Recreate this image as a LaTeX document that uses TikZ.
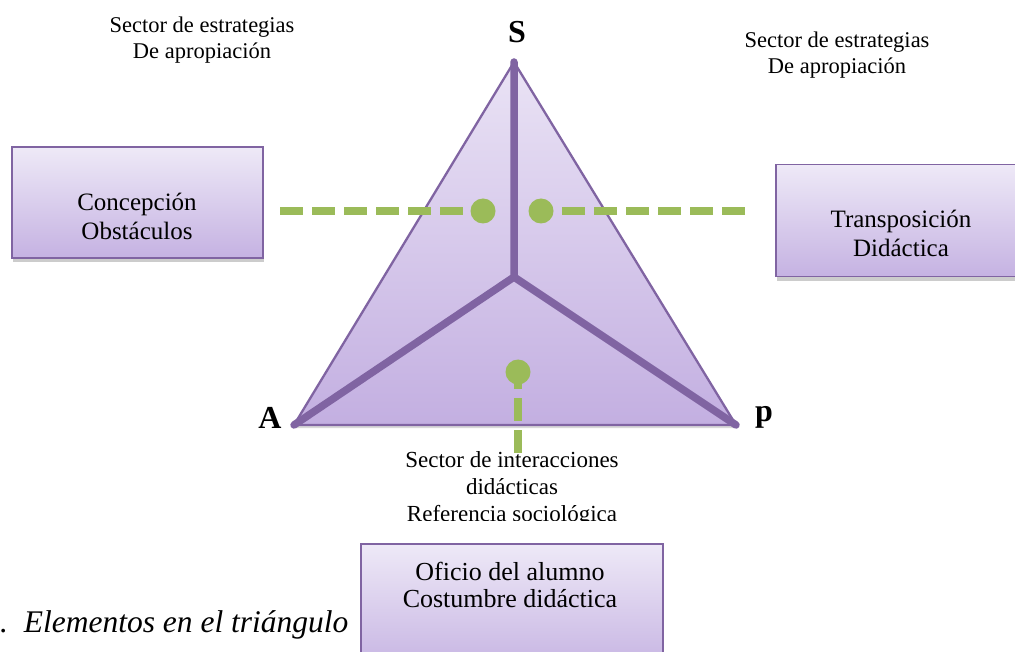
\documentclass[tikz,border=0pt]{standalone}
\usepackage{fontspec}
\setmainfont{Liberation Serif}
\usetikzlibrary{shadows}
\definecolor{lpurple}{HTML}{8064A2}
\definecolor{lgreen}{HTML}{9BBB59}
\definecolor{ftop}{HTML}{EEE9F7}
\definecolor{fbot}{HTML}{C5B2E2}
\definecolor{ttop}{HTML}{EAE3F5}
\definecolor{tbot}{HTML}{C3AFE1}
\begin{document}
\begin{tikzpicture}[x=1pt,y=-1pt,
  box/.style={draw=lpurple, line width=1.5pt, top color=ftop, bottom color=fbot,
    drop shadow={opacity=0.4, shadow xshift=1pt, shadow yshift=-4pt}},
  lbl/.style={font=\fontsize{22.5}{26}\selectfont, align=center, inner sep=0pt},
  boxtxt/.style={font=\fontsize{25}{29}\selectfont, align=center, inner sep=0pt},
  vtx/.style={font=\bfseries\fontsize{32}{34}\selectfont, inner sep=0pt, anchor=base},
  spine/.style={draw=lpurple, line width=7.5pt, line cap=round, line join=round},
  gline/.style={draw=lgreen, line width=8.5pt, dash pattern=on 23pt off 9pt},
  gdot/.style={circle, fill=lgreen, minimum size=25pt, inner sep=0pt}
]
\useasboundingbox (0,0) rectangle (1015,652);

% triangle
\coordinate (S) at (514,62);
\coordinate (A) at (294,425);
\coordinate (P) at (736,425);
\coordinate (O) at (514,277);
\path[top color=ttop, bottom color=tbot, drop shadow={opacity=0.3, shadow xshift=0pt, shadow yshift=-3pt}]
  (S) -- (A) -- (P) -- cycle;
\draw[lpurple, line width=2.3pt, line join=round] (S) -- (A) -- (P) -- cycle;
\draw[spine] (S) -- (O) -- (A);
\draw[spine] (O) -- (P);

% vertex labels
\node[vtx] (lS) at (517,43) {S};
\node[vtx] (lA) at (270,428) {A};
\node[vtx] (lP) at (764,421) {p};

% top labels
\node[lbl] (tl) at (202,40) {Sector de estrategias\\De apropiación};
\node[lbl] (tr) at (837,55) {Sector de estrategias\\De apropiación};

% boxes
\node[box, minimum width=251pt, minimum height=111pt, inner sep=0pt] (bl) at (137.5,202.5) {};
\node[boxtxt] (tbl) at (137,216) {Concepción\\Obstáculos};
\node[box, minimum width=260pt, minimum height=112pt, inner sep=0pt, anchor=north west] (br) at (775,164) {};
\node[boxtxt] (tbr) at (901,233) {Transposición\\Didáctica};
\node[box, minimum width=302pt, minimum height=130pt, inner sep=0pt, anchor=north west] (bb) at (360,543) {};
\node[font=\fontsize{26}{27}\selectfont, align=center, inner sep=0pt] (tbb) at (510,585) {Oficio del alumno\\Costumbre didáctica};

% green connectors
\coordinate (l1) at (280,211);
\coordinate (r1) at (745,211);
\coordinate (b1) at (518,453);
\draw[gline] (l1) -- (483,211) coordinate (l2);
\draw[gline] (r1) -- (541,211) coordinate (r2);
\draw[gline] (b1) -- (518,372) coordinate (b2);
\node[gdot] (d1) at (l2) {};
\node[gdot] (d2) at (r2) {};
\node[gdot] (d3) at (b2) {};

% bottom sector text (clipped)
\begin{scope}
\clip (300,440) rectangle (720,520);
\node[lbl, font=\fontsize{23}{27}\selectfont] (tb) at (512,489) {Sector de interacciones\\didácticas\\Referencia sociológica};
\end{scope}

% caption
\node[font=\itshape\fontsize{31.5}{33}\selectfont, inner sep=0pt, anchor=base west] (cap) at (0,632) {.\ \ Elementos en el triángulo};
\end{tikzpicture}
\end{document}
